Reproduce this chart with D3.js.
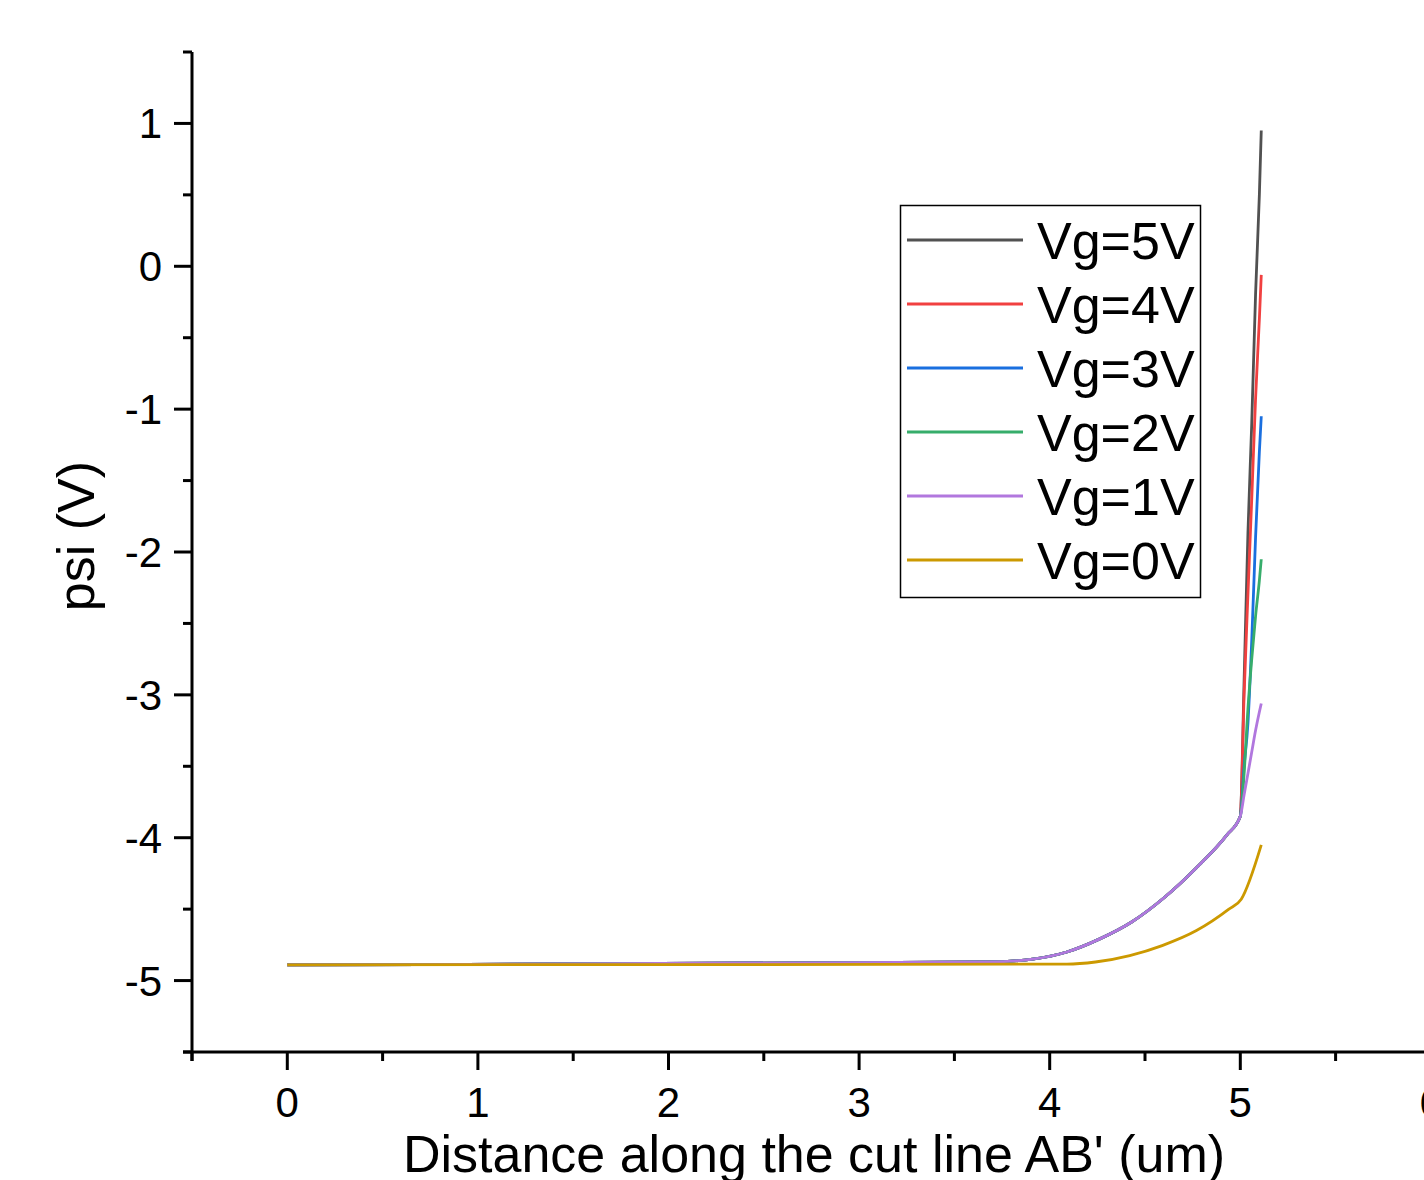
<!DOCTYPE html>
<head>
<meta charset="utf-8">
<script src="https://d3js.org/d3.v7.min.js"></script>
<style>
  body { margin: 0; background: #fff; }
  text { font-family: "Liberation Sans", Arial, sans-serif; fill: #000; }
</style>
</head>
<body>
<div id="my_dataviz"></div>
<script>
// shared rising part of the curves Vg=1..5V
var xRise = [0, 3.68, 3.91, 4.09, 4.26, 4.43, 4.60, 4.77, 4.93, 5.0];
var yRise = [-4.89, -4.87, -4.85, -4.80, -4.71, -4.59, -4.42, -4.21, -3.98, -3.85];

// steep tails near the interface
var xTail = [5.0, 5.02, 5.04, 5.06, 5.08, 5.10, 5.11];
var vg5Tail = [-3.85, -2.9, -1.87, -1.1, -0.2, 0.5, 0.95];
var vg4Tail = [-3.85, -3.0, -2.3, -1.63, -0.93, -0.37, -0.06];
var vg3Tail = [-3.85, -3.5, -3.2, -2.62, -1.9, -1.3, -1.05];
var vg2Tail = [-3.85, -3.55, -3.1, -2.75, -2.45, -2.2, -2.05];
var vg1Tail = [-3.85, -3.7, -3.55, -3.4, -3.25, -3.12, -3.06];

// Vg=0V has its own shape
var xVg0 = [0, 4.09, 4.24, 4.42, 4.59, 4.77, 4.94, 5.005, 5.11];
var yVg0 = [-4.89, -4.885, -4.87, -4.825, -4.755, -4.65, -4.50, -4.43, -4.05];

var labels = ["Vg=5V", "Vg=4V", "Vg=3V", "Vg=2V", "Vg=1V", "Vg=0V"];
var colors = ["#515151", "#F14040", "#1A6FDF", "#37AD6B", "#B177DE", "#CC9900"];

var xTicks = [-0.5, 0, 0.5, 1, 1.5, 2, 2.5, 3, 3.5, 4, 4.5, 5, 5.5, 6, 6.5];
var yTicks = [-5.5, -5, -4.5, -4, -3.5, -3, -2.5, -2, -1.5, -1, -0.5, 0, 0.5, 1, 1.5];

function zip(xs, ys) { return xs.map(function(x, i) { return [x, ys[i]]; }); }
function withTail(tail) { return zip(xRise, yRise).concat(zip(xTail, tail).slice(1)); }

var series = [
  withTail(vg5Tail), withTail(vg4Tail), withTail(vg3Tail),
  withTail(vg2Tail), withTail(vg1Tail), zip(xVg0, yVg0)
];

var W = 1424, H = 1180;
var plotLeft = 192, plotTop = 52, plotBottom = 1052;

var svg = d3.select("#my_dataviz").append("svg")
  .attr("width", W).attr("height", H);

var x = d3.scaleLinear().domain([-0.5, 6.5]).range([plotLeft, plotLeft + 7 * 190.6]);
var y = d3.scaleLinear().domain([-5.5, 1.5]).range([plotBottom, plotTop]);

function isMajor(v) { return Math.abs(v - Math.round(v)) < 1e-6; }

// x axis
var xa = svg.append("g").attr("transform", "translate(0," + plotBottom + ")");
xa.append("line").attr("x1", plotLeft - 9).attr("x2", W + 200)
  .attr("stroke", "#000").attr("stroke-width", 3);
xa.selectAll(".t").data(xTicks).enter().append("line")
  .attr("x1", function(d) { return x(d); }).attr("x2", function(d) { return x(d); })
  .attr("y1", 0).attr("y2", function(d) { return isMajor(d) ? 18 : 9; })
  .attr("stroke", "#000").attr("stroke-width", 3);
xa.selectAll(".l").data(xTicks.filter(isMajor)).enter().append("text")
  .attr("x", function(d) { return x(d); }).attr("y", 65)
  .attr("text-anchor", "middle").style("font-size", "42px")
  .text(function(d) { return d; });

// y axis
var ya = svg.append("g");
ya.append("line").attr("x1", plotLeft).attr("x2", plotLeft)
  .attr("y1", plotTop).attr("y2", plotBottom + 9)
  .attr("stroke", "#000").attr("stroke-width", 3);
ya.selectAll(".t").data(yTicks).enter().append("line")
  .attr("y1", function(d) { return y(d); }).attr("y2", function(d) { return y(d); })
  .attr("x1", plotLeft).attr("x2", function(d) { return plotLeft - (isMajor(d) ? 18 : 9); })
  .attr("stroke", "#000").attr("stroke-width", 3);
ya.selectAll(".l").data(yTicks.filter(isMajor)).enter().append("text")
  .attr("x", 162).attr("y", function(d) { return y(d) + 15; })
  .attr("text-anchor", "end").style("font-size", "42px")
  .text(function(d) { return d; });

// titles
svg.append("text").attr("x", 814).attr("y", 1172)
  .attr("text-anchor", "middle").style("font-size", "52px")
  .text("Distance along the cut line AB' (um)");
svg.append("text").attr("transform", "translate(94,536) rotate(-90)")
  .attr("text-anchor", "middle").style("font-size", "52px")
  .text("psi (V)");

// curves
var line = d3.line().curve(d3.curveMonotoneX)
  .x(function(d) { return x(d[0]); }).y(function(d) { return y(d[1]); });
svg.selectAll(".curve").data(series).enter().append("path")
  .attr("d", line)
  .attr("fill", "none")
  .attr("stroke", function(d, i) { return colors[i]; })
  .attr("stroke-width", 2.8);

// legend
var lg = svg.append("g");
lg.append("rect").attr("x", 900.5).attr("y", 205.5).attr("width", 300).attr("height", 392)
  .attr("fill", "#fff").attr("stroke", "#000").attr("stroke-width", 1.5);
labels.forEach(function(lab, i) {
  var ly = 240 + i * 64;
  lg.append("line").attr("x1", 907).attr("x2", 1023).attr("y1", ly).attr("y2", ly)
    .attr("stroke", colors[i]).attr("stroke-width", 3);
  lg.append("text").attr("x", 1037).attr("y", ly + 19)
    .style("font-size", "52px").text(lab);
});
</script>
</body>
